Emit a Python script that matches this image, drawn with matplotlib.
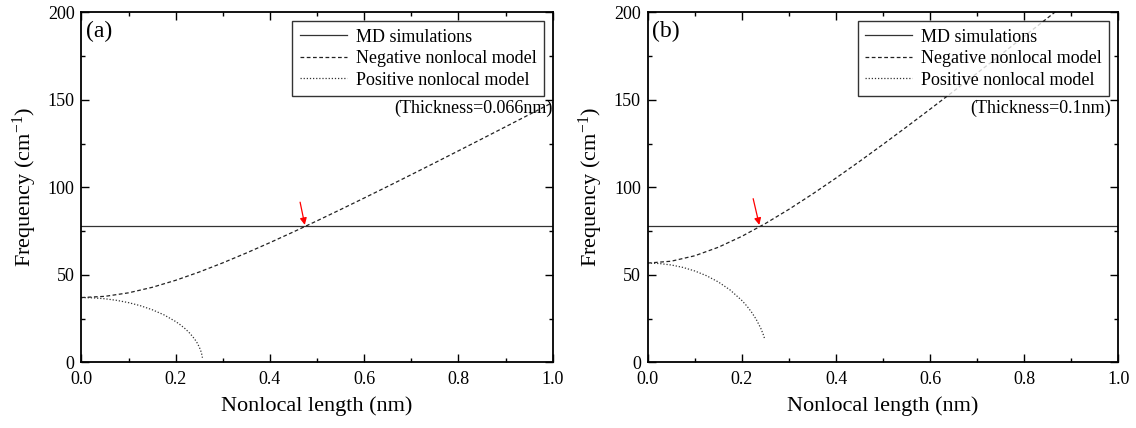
import numpy as np
import matplotlib
matplotlib.use('Agg')
import matplotlib.pyplot as plt
from matplotlib.ticker import MultipleLocator

plt.rcParams['font.family'] = ['Liberation Serif', 'DejaVu Serif']
plt.rcParams['mathtext.default'] = 'regular'

# ── Data ─────────────────────────────────────────────────────
md_freq = 77.6  # MD simulation frequency (cm^-1), same in both panels

# (a) thickness 0.066 nm
a_neg_x = [0.0, 0.05, 0.10, 0.15, 0.20, 0.25, 0.30, 0.35, 0.40, 0.45, 0.50,
           0.55, 0.60, 0.65, 0.70, 0.75, 0.80, 0.85, 0.90, 0.95, 1.00]
a_neg_y = [37.0, 37.69, 39.70, 42.83, 46.86, 51.59, 56.83, 62.46, 68.38, 74.53, 80.85,
           87.31, 93.87, 100.51, 107.23, 114.00, 120.83, 127.69, 134.59, 141.51, 148.46]
a_pos_x = [0.0, 0.025, 0.05, 0.075, 0.10, 0.125, 0.15, 0.175, 0.20, 0.21,
           0.22, 0.23, 0.24, 0.245, 0.25, 0.254, 0.256, 0.2567]
a_pos_y = [37.0, 36.83, 36.30, 35.39, 34.09, 32.34, 30.06, 27.13, 23.28, 21.39,
           19.20, 16.60, 13.35, 11.32, 8.78, 5.95, 3.78, 2.61]

# (b) thickness 0.1 nm
b_neg_x = [0.0, 0.05, 0.10, 0.15, 0.20, 0.25, 0.30, 0.35, 0.40, 0.45,
           0.50, 0.55, 0.60, 0.65, 0.70, 0.75, 0.80, 0.85, 0.90]
b_neg_y = [56.7, 57.77, 60.88, 65.74, 71.99, 79.30, 87.42, 96.13, 105.28, 114.78,
           124.55, 134.51, 144.65, 154.91, 165.28, 175.74, 186.27, 196.86, 207.50]
b_pos_x = [0.0, 0.025, 0.05, 0.075, 0.10, 0.125, 0.15, 0.175, 0.20, 0.21,
           0.22, 0.23, 0.24, 0.245, 0.248]
b_pos_y = [56.7, 56.43, 55.61, 54.21, 52.18, 49.46, 45.91, 41.33, 35.32, 32.34,
           28.88, 24.76, 19.54, 16.20, 13.77]

# arrow tail / head marking the crossing point
a_arrow = [(0.464, 91.5), (0.474, 78.5)]
b_arrow = [(0.224, 93.5), (0.237, 78.5)]

panels = [
    ('(a)', '(Thickness=0.066nm)', a_neg_x, a_neg_y, a_pos_x, a_pos_y, a_arrow, 1.0),
    ('(b)', '(Thickness=0.1nm)', b_neg_x, b_neg_y, b_pos_x, b_pos_y, b_arrow, 0.985),
]

# ── Plot ─────────────────────────────────────────────────────
fig = plt.figure(figsize=(11.36, 4.28), dpi=100)
rects = [[0.0717, 0.1535, 0.4148, 0.8178], [0.5702, 0.1535, 0.4143, 0.8178]]

for rect, (tag, thick, nx, ny, px, py, arr, tx) in zip(rects, panels):
    ax = fig.add_axes(rect)
    ax.axhline(md_freq, color='#333333', lw=0.9, label='MD simulations')
    ax.plot(nx, ny, color='#222222', lw=0.9, dashes=(3, 2), label='Negative nonlocal model')
    ax.plot(px, py, color='#333333', lw=0.9, dashes=(1, 1.5), label='Positive nonlocal model')
    ax.annotate('', xy=arr[1], xytext=arr[0],
                arrowprops=dict(arrowstyle='-|>', color='red', lw=0.9,
                                mutation_scale=10, shrinkA=0, shrinkB=0))

    ax.set_xlim(0, 1.0)
    ax.set_ylim(0, 200)
    ax.xaxis.set_major_locator(MultipleLocator(0.2))
    ax.xaxis.set_minor_locator(MultipleLocator(0.1))
    ax.yaxis.set_major_locator(MultipleLocator(50))
    ax.yaxis.set_minor_locator(MultipleLocator(25))
    ax.tick_params(which='both', direction='in', top=True, right=True, labelsize=13)
    ax.tick_params(which='major', length=6, width=1)
    ax.tick_params(which='minor', length=3, width=1)
    ax.tick_params(axis='x', which='major', pad=6)
    ax.tick_params(axis='y', which='major', pad=5)
    for sp in ax.spines.values():
        sp.set_linewidth(1.3)

    ax.set_xlabel('Nonlocal length (nm)', fontsize=16, labelpad=6)
    ax.set_ylabel('Frequency (cm$^{-1}$)', fontsize=16, labelpad=6)
    ax.text(0.01, 0.975, tag, transform=ax.transAxes, fontsize=17, va='top', ha='left')
    ax.text(tx, 0.725, thick, transform=ax.transAxes, fontsize=13, va='center', ha='right')

    leg = ax.legend(loc='upper right', fontsize=13, frameon=True, fancybox=False,
                    edgecolor='black', borderaxespad=0.5, handlelength=2.6,
                    labelspacing=0.25, borderpad=0.4, handletextpad=0.5)
    leg.get_frame().set_linewidth(1.0)

plt.savefig('out.png', dpi=100)
plt.close()
